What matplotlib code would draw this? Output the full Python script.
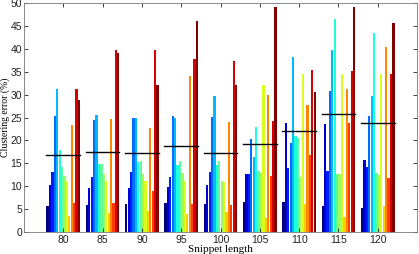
import numpy as np
import matplotlib
matplotlib.use("Agg")
import matplotlib.pyplot as plt

snippet_lengths = ["80", "85", "90", "95", "100", "105", "110", "115", "120"]

# 14 bars per group (jet colormap order)
g80 = [5.7, 10.3, 13.2, 25.3, 31.2, 17.8, 14.3, 12.3, 11.1, 3.6, 23.4, 6.4, 31.2, 28.8]
g85 = [6.0, 9.7, 12.0, 24.5, 25.6, 14.8, 14.8, 12.6, 11.1, 4.1, 24.6, 6.4, 39.8, 39.1]
g90 = [6.2, 9.6, 13.1, 24.8, 24.8, 15.3, 15.4, 12.6, 11.1, 4.6, 22.7, 8.9, 39.8, 32.0]
g95 = [6.4, 9.9, 12.0, 25.3, 24.8, 14.6, 15.5, 12.8, 11.1, 3.9, 34.0, 6.2, 37.8, 46.0]
g100 = [6.1, 10.2, 13.1, 25.1, 29.8, 14.6, 15.5, 11.1, 11.0, 4.4, 24.0, 6.0, 37.3, 32.2]
g105 = [6.6, 12.6, 12.6, 20.2, 16.4, 22.9, 13.4, 12.9, 32.0, 3.0, 30.0, 12.2, 24.2, 49.2]
g110 = [6.6, 23.7, 13.9, 19.5, 38.3, 21.0, 20.5, 12.0, 34.4, 6.2, 27.8, 16.9, 35.3, 30.6]
g115 = [5.7, 23.5, 13.3, 30.8, 39.8, 46.4, 12.6, 12.7, 34.4, 3.2, 31.2, 23.7, 35.1, 49.2]
g120 = [5.2, 15.7, 14.2, 25.3, 29.7, 43.4, 12.8, 12.4, 34.6, 5.7, 40.4, 11.7, 34.4, 45.6]
groups = [g80, g85, g90, g95, g100, g105, g110, g115, g120]

# mean lines (black)
group_means = [16.8, 17.5, 17.3, 18.7, 17.2, 19.2, 22.0, 25.8, 23.7]

fig = plt.figure(figsize=(4.19, 2.54), dpi=100)
ax = fig.add_axes([24/419, (254-232)/254, (417-24)/419, (232-3)/254])

data = np.array(groups)
ngroups, nbars = data.shape
colors = plt.cm.jet(np.linspace(0, 1, nbars))
gw = 0.86
step = gw / nbars
centers = np.arange(1, ngroups + 1)
for j in range(nbars):
    xs = centers - gw/2 + step*(j + 0.5)
    ax.bar(xs, data[:, j], width=step*0.92, color=colors[j], linewidth=0)

for c, m in zip(centers, group_means):
    ax.plot([c - gw/2, c + gw/2], [m, m], color='black', lw=1.0)

ax.set_xlim(0, 10)
ax.set_ylim(0, 50)
ax.set_xticks(centers)
ax.set_xticklabels(snippet_lengths)
ax.set_yticks(np.arange(0, 51, 5))
for lab in ax.get_xticklabels() + ax.get_yticklabels():
    lab.set_fontfamily('Liberation Sans')
    lab.set_fontsize(7.5)
ax.tick_params(axis='y', pad=1.5)
ax.tick_params(direction='in', length=3, width=0.6, top=True, right=True, colors='#222222')
ax.tick_params(axis='x', pad=2)
for s in ax.spines.values():
    s.set_linewidth(0.6)
    s.set_color('#777777')
ax.set_xlabel('Snippet length', family='Liberation Serif', fontsize=8, labelpad=0)
ax.set_ylabel('Clustering error (%)', family='Liberation Serif', fontsize=7)
ax.yaxis.set_label_coords((10.5 - 24) / 393, 0.5)

fig.savefig('out.png', dpi=100)
